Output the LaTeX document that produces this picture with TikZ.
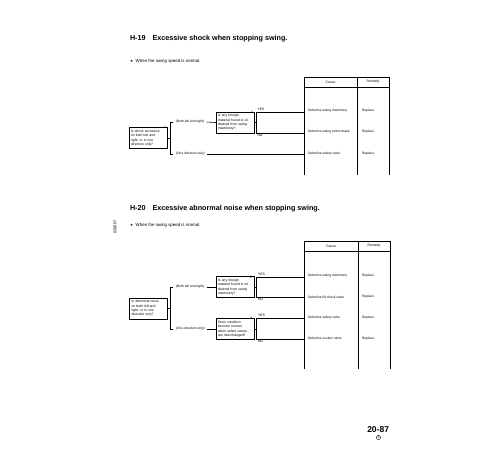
\documentclass[tikz,border=0pt]{standalone}
\usepackage{fontspec}
\setmainfont{Liberation Sans}
\newfontfamily\symfont{DejaVu Sans}
\begin{document}
\begin{tikzpicture}[x=1pt,y=-1pt,
  every node/.style={inner sep=0pt, outer sep=0pt},
  ttl/.style={anchor=base west, font=\bfseries\fontsize{7.2}{8}\selectfont},
  note/.style={anchor=base west, font=\fontsize{4.4}{5}\selectfont},
  qbox/.style={draw, line width=0.7pt, text width=34pt, inner xsep=2pt, inner ysep=1.5pt, align=left, minimum height=21pt, font=\fontsize{3.4}{4.3}\selectfont},
  lbl/.style={font=\fontsize{3.4}{4}\selectfont},
  small/.style={anchor=west, font=\fontsize{3.3}{4}\selectfont},
  conn/.style={line width=0.6pt},
  tbl/.style={line width=0.7pt}
]
\useasboundingbox (0,0) rectangle (500,450);

%================ H-19 =================
\node[ttl] (t19) at (130,40) {H-19\hspace{5pt} Excessive shock when stopping swing.};
\node[note] (n19) at (130,62) {{\symfont\fontsize{3.6}{4}\selectfont ★}\hspace{2.5pt}When the swing speed is normal.};

% table
\draw[tbl] (304,175) -- (304,77) -- (389,77) -- (389,175);
\draw[tbl] (304,87) -- (389,87);
\draw[tbl] (357,77) -- (357,175);
\node[lbl] (h19c) at (330.5,82) {Cause};
\node[lbl] (h19r) at (373,82) {Remedy};

\node[small] (c19a) at (308,111) {Defective swing machinery};
\node[small] (c19b) at (308,132) {Defective swing motor brake};
\node[small] (c19c) at (308,154) {Defective safety valve};
\node[small] (r19a) at (362,111) {Replace};
\node[small] (r19b) at (362,132) {Replace};
\node[small] (r19c) at (362,154) {Replace};

% questions
\node[qbox] (a1) at (148,138) {Is shock excessive\\on both left and\\right, or in one\\direction only?};
\node[lbl, anchor=south east] (a1n) at ([yshift=-1.2pt,xshift=-1pt]a1.north east) {1};
\node[qbox] (a2) at (235,122.5) {Is any foreign\\material found in oil\\drained from swing\\machinery?};
\node[lbl, anchor=south east] (a2n) at ([yshift=-1.2pt,xshift=-1pt]a2.north east) {2};

\coordinate (a1m) at (170,138);
\coordinate (a1t) at (170,122);
\coordinate (a1tt) at (173,122);
\coordinate (a1d) at (170,154);
\coordinate (a1dd) at (173,154);
\draw[conn] (a1.east) -- (a1m);
\draw[conn] (a1tt) -- (a1t) -- (a1d) -- (a1dd);
\node[small] (a1both) at (176,122) {(Both left and right)};
\node[small] (a1one) at (176,154) {(One direction only)};
\draw[conn] ([xshift=2.5pt]a1both.east) -- (a2.west);
\coordinate (a1oe) at (304,154);
\draw[conn] ([xshift=2.5pt]a1one.east) -- (a1oe);

\coordinate (a2m) at (256,122.5);
\coordinate (a2y) at (256,112);
\coordinate (a2n2) at (256,133);
\coordinate (a2ye) at (304,112);
\coordinate (a2ne) at (304,133);
\draw[conn] (a2.east) -- (a2m);
\draw[conn] (a2ye) -- (a2y) -- (a2n2) -- (a2ne);
\node[lbl, anchor=south west] (a2yes) at (257.5,111) {YES};
\node[lbl, anchor=north west] (a2no) at (257.5,134.5) {NO};

%================ H-20 =================
\node[ttl] (t20) at (130,210.5) {H-20\hspace{5pt} Excessive abnormal noise when stopping swing.};
\node[note] (n20) at (130,226.5) {{\symfont\fontsize{3.6}{4}\selectfont ★}\hspace{2.5pt}When the swing speed is normal.};
\node[rotate=90, font=\fontsize{4}{5}\selectfont] (code) at (115,227) {020607};

% table
\draw[tbl] (304,369) -- (304,241) -- (390,241) -- (390,369);
\draw[tbl] (304,251) -- (390,251);
\draw[tbl] (358,241) -- (358,369);
\node[lbl] (h20c) at (331,246) {Cause};
\node[lbl] (h20r) at (374,246) {Remedy};

\node[small] (c20a) at (308,276) {Defective swing machinery};
\node[small] (c20b) at (308,297) {Defective lift check valve};
\node[small] (c20c) at (308,318) {Defective safety valve};
\node[small] (c20d) at (308,338.5) {Defective suction valve};
\node[small] (r20a) at (362,276) {Replace};
\node[small] (r20b) at (362,297) {Replace};
\node[small] (r20c) at (362,318) {Replace};
\node[small] (r20d) at (362,338.5) {Replace};

\node[qbox] (b1) at (148.5,308.5) {Is abnormal noise\\on both left and\\right, or in one\\direction only?};
\node[qbox] (b2) at (235,287) {Is any foreign\\material found in oil\\drained from swing\\machinery?};
\node[lbl, anchor=south east] (b2n) at ([yshift=-1.5pt,xshift=-2pt]b2.north east) {2};
\node[qbox] (b3) at (235,329) {Does condition\\become normal\\when safety valves\\are interchanged?};
\node[lbl, anchor=south east] (b3n) at ([yshift=-1.5pt,xshift=-2pt]b3.north east) {3};

\coordinate (b1m) at (170,308.5);
\coordinate (b1t) at (170,287);
\coordinate (b1tt) at (173,287);
\coordinate (b1d) at (170,329);
\coordinate (b1dd) at (173,329);
\draw[conn] (b1.east) -- (b1m);
\draw[conn] (b1tt) -- (b1t) -- (b1d) -- (b1dd);
\node[small] (b1both) at (176,287) {(Both left and right)};
\node[small] (b1one) at (176,329) {(One direction only)};
\draw[conn] ([xshift=2.5pt]b1both.east) -- (b2.west);
\draw[conn] ([xshift=2.5pt]b1one.east) -- (b3.west);

\coordinate (b2m) at (256,287);
\coordinate (b2y) at (256,277);
\coordinate (b2n2) at (256,297);
\coordinate (b2ye) at (304,277);
\coordinate (b2ne) at (304,297);
\draw[conn] (b2.east) -- (b2m);
\draw[conn] (b2ye) -- (b2y) -- (b2n2) -- (b2ne);
\node[lbl, anchor=south west] (b2yes) at (258,276) {YES};
\node[lbl, anchor=north west] (b2no) at (258,298.5) {NO};

\coordinate (b3m) at (256,329);
\coordinate (b3y) at (256,318);
\coordinate (b3n2) at (256,339);
\coordinate (b3ye) at (304,318);
\coordinate (b3ne) at (304,339);
\draw[conn] (b3.east) -- (b3m);
\draw[conn] (b3ye) -- (b3y) -- (b3n2) -- (b3ne);
\node[lbl, anchor=south west] (b3yes) at (258,317) {YES};
\node[lbl, anchor=north west] (b3no) at (258,340.5) {NO};

% page number
\node[anchor=base east, font=\bfseries\fontsize{8.5}{10}\selectfont] (pg) at (389,432) {20-87};
\node[circle, draw, line width=0.4pt, inner sep=0.4pt, font=\fontsize{3.5}{4}\selectfont] (rev) at (378.5,437.5) {5};
\end{tikzpicture}
\end{document}
